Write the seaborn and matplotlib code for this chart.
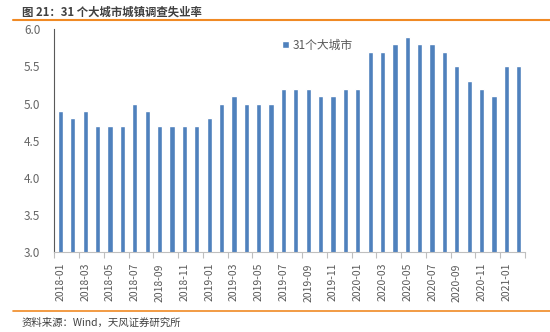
import numpy as np
import pandas as pd
import matplotlib
matplotlib.use("Agg")
import matplotlib.pyplot as plt
import seaborn as sns
from matplotlib.lines import Line2D

sns.set_style("white")
plt.rcParams['font.family'] = ['Noto Sans CJK SC', 'DejaVu Sans']

months = [str(p) for p in pd.period_range("2018-01", "2021-02", freq="M")]
rates = [4.9, 4.8, 4.9, 4.7, 4.7, 4.7, 5.0, 4.9, 4.7, 4.7, 4.7, 4.7,
         4.8, 5.0, 5.1, 5.0, 5.0, 5.0, 5.2, 5.2, 5.2, 5.1, 5.1, 5.2,
         5.2, 5.7, 5.7, 5.8, 5.9, 5.8, 5.8, 5.7, 5.5, 5.3, 5.2, 5.1,
         5.5, 5.5]
series_name = "31个大城市"
title = "图 21：31 个大城市城镇调查失业率"
source = "资料来源：Wind，天风证券研究所"
yticks = [3.0, 3.5, 4.0, 4.5, 5.0, 5.5, 6.0]

df = pd.DataFrame({"month": months, "rate": rates, "series": series_name})

fig = plt.figure(figsize=(5.5, 3.32), dpi=100)
ax = fig.add_axes([54.3 / 550, 1 - 252 / 332, (525 - 54.3) / 550, (252 - 29.3) / 332])

sns.barplot(data=df, x="month", y="rate", hue="series", palette=["#4F81BD"],
            width=0.42, ax=ax, legend=True, saturation=1)

ax.set_ylim(3.0, 6.0)
ax.set_xlim(-0.5, len(months) - 0.5)
ax.set_yticks(yticks)
ax.set_yticklabels([f"{v:.1f}" for v in yticks], fontsize=8.5, color="#666666")
ax.set_xticks(range(0, len(months), 2))
ax.set_xticklabels(months[::2], rotation=90, fontsize=7.5, color="#595959")
ax.set_xticks(np.arange(-0.5, len(months), 2), minor=True)
ax.tick_params(axis="x", which="major", length=0, pad=8)
ax.tick_params(axis="x", which="minor", length=4, color="#BFBFBF", width=0.8, direction="out", bottom=True)
ax.tick_params(axis="y", length=0, pad=10)
ax.set_xlabel("")
ax.set_ylabel("")

for s in ["top", "right"]:
    ax.spines[s].set_visible(False)
ax.spines["left"].set_color("#595959")
ax.spines["left"].set_linewidth(0.8)
ax.spines["bottom"].set_color("#BFBFBF")
ax.spines["bottom"].set_linewidth(0.8)

leg = ax.legend(loc="upper left", bbox_to_anchor=(276 / 550, 1 - 33 / 332),
                bbox_transform=fig.transFigure, frameon=False, fontsize=8.5,
                handlelength=0.6, handleheight=0.6, handletextpad=0.3, borderpad=0)
for t in leg.get_texts():
    t.set_color("#595959")

fig.text(22 / 550, 1 - 12 / 332, title, fontsize=8.2, fontweight="bold",
         color="#404040", va="center", ha="left")
fig.add_artist(Line2D([13 / 550, 1.0], [1 - 20 / 332, 1 - 20 / 332],
                      transform=fig.transFigure, color="#F08A24", linewidth=1.5))
fig.add_artist(Line2D([13 / 550, 1.0], [1 - 311 / 332, 1 - 311 / 332],
                      transform=fig.transFigure, color="#F08A24", linewidth=1.2))
fig.text(22 / 550, 1 - 323 / 332, source, fontsize=7.5, color="#404040",
         va="center", ha="left")

fig.savefig("out.png", dpi=100)
